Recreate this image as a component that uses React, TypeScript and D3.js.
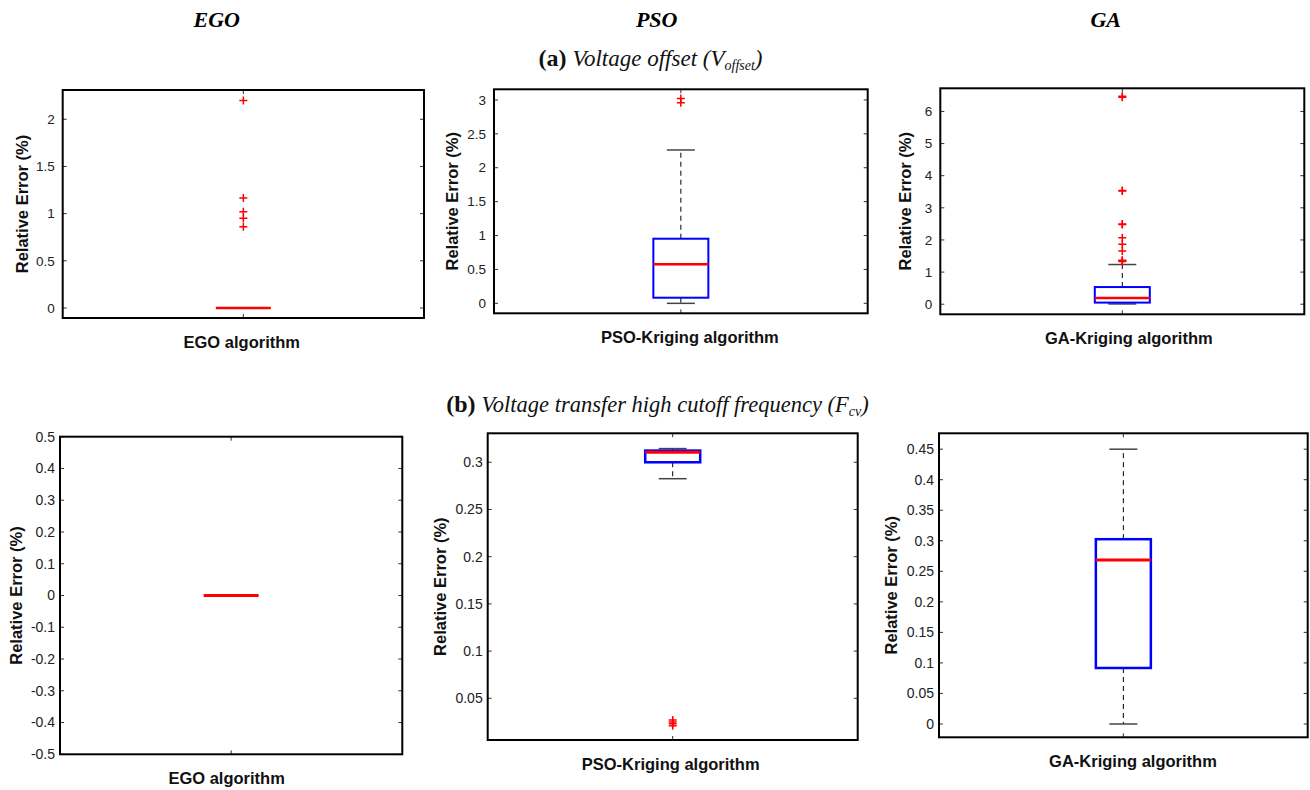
import React from 'react'
import * as d3 from 'd3'

// panels: 0-2 = (a) voltage offset, 3-5 = (b) high cutoff frequency
const columnTitles = ['EGO', 'PSO', 'GA']
const xLabels = [
  'EGO algorithm', 'PSO-Kriging algorithm', 'GA-Kriging algorithm',
  'EGO algorithm', 'PSO-Kriging algorithm', 'GA-Kriging algorithm',
]

const whiskerLow = [0, 0, 0.008, 0, 0.2826, 0]
const q1 = [0, 0.083, 0.05, 0, 0.3, 0.0917]
const median = [0, 0.575, 0.19, 0, 0.3106, 0.2687]
const q3 = [0, 0.953, 0.534, 0, 0.3124, 0.3026]
const whiskerHigh = [0, 2.262, 1.235, 0, 0.3145, 0.45]
const outliers = [
  [2.2, 1.165, 1.02, 0.95, 0.86],
  [3.02, 2.96],
  [6.47, 6.44, 3.54, 3.52, 2.5, 2.48, 2.07, 1.87, 1.66, 1.37, 1.35, 1.33],
  [],
  [0.027, 0.025, 0.023, 0.021],
  [],
]

const yDomains = [
  [-0.106, 2.31],
  [-0.147, 3.157],
  [-0.314, 6.72],
  [-0.5, 0.5],
  [0.0058, 0.3307],
  [-0.0218, 0.476],
]
const yTicks = [
  [0, 0.5, 1, 1.5, 2],
  [0, 0.5, 1, 1.5, 2, 2.5, 3],
  [0, 1, 2, 3, 4, 5, 6],
  [-0.5, -0.4, -0.3, -0.2, -0.1, 0, 0.1, 0.2, 0.3, 0.4, 0.5],
  [0.05, 0.1, 0.15, 0.2, 0.25, 0.3],
  [0, 0.05, 0.1, 0.15, 0.2, 0.25, 0.3, 0.35, 0.4, 0.45],
]

// plot frames [left, top, right, bottom]
const frames = [
  [62.7, 90, 424, 318],
  [494, 89.3, 867.7, 313.3],
  [940.3, 88.3, 1304.3, 314.3],
  [60, 436.7, 402.3, 754.3],
  [487.7, 433.3, 857.7, 740],
  [939, 433.3, 1307.7, 737.3],
]
const yLabelX = [22.7, 452.7, 905, 16, 440, 891.7]
const xLabelShift = [-1.6, 9, 6.5, -4.5, -2, 9.6]

const sans = '"Liberation Sans", Arial, sans-serif'
const serif = '"Liberation Serif", "Times New Roman", serif'

function Panel({ i }: { i: number }) {
  const [l, t, r, b] = frames[i]
  const bottomRow = i >= 3
  const y = d3.scaleLinear().domain(yDomains[i]).range([b, t])
  const x = d3.scaleBand().domain([xLabels[i]]).range([l, r])
  const cx = x(xLabels[i])! + x.bandwidth() / 2
  const boxW = 55
  const capW = 28
  const fmt = (d: number) => String(+d.toFixed(3))
  const tickLen = 4
  const boxStroke = bottomRow ? 2.5 : 2
  return (
    <g>
      {/* whiskers */}
      <line x1={cx} x2={cx} y1={y(q3[i])} y2={y(whiskerHigh[i])} stroke="#000" strokeWidth={1} strokeDasharray="5,4" />
      <line x1={cx} x2={cx} y1={y(q1[i])} y2={y(whiskerLow[i])} stroke="#000" strokeWidth={1} strokeDasharray="5,4" />
      <line x1={cx - capW / 2} x2={cx + capW / 2} y1={y(whiskerHigh[i])} y2={y(whiskerHigh[i])} stroke="#444" strokeWidth={1.5} />
      <line x1={cx - capW / 2} x2={cx + capW / 2} y1={y(whiskerLow[i])} y2={y(whiskerLow[i])} stroke="#444" strokeWidth={1.5} />
      {/* box */}
      <rect x={cx - boxW / 2} y={y(q3[i])} width={boxW} height={y(q1[i]) - y(q3[i])} fill="none" stroke="#0000ff" strokeWidth={boxStroke} />
      <line x1={cx - boxW / 2} x2={cx + boxW / 2} y1={y(median[i])} y2={y(median[i])} stroke="#ff0000" strokeWidth={boxStroke + 0.5} />
      {/* outliers */}
      {outliers[i].map((v, k) => (
        <path key={k} d={`M${cx - 4},${y(v)}H${cx + 4}M${cx},${y(v) - 4}V${y(v) + 4}`} stroke="#ff0000" strokeWidth={1.5} fill="none" />
      ))}
      {/* ticks */}
      {yTicks[i].map(v => (
        <g key={v}>
          <line x1={l} x2={l + tickLen} y1={y(v)} y2={y(v)} stroke="#333" />
          <line x1={r} x2={r - tickLen} y1={y(v)} y2={y(v)} stroke="#333" />
          <text x={l - (bottomRow ? 5 : 8)} y={y(v)} dy="0.35em" textAnchor="end" fontFamily={sans} fontSize={bottomRow ? 14 : 13.5} fill="#222">{fmt(v)}</text>
        </g>
      ))}
      <line x1={cx} x2={cx} y1={t} y2={t + tickLen} stroke="#333" />
      <line x1={cx} x2={cx} y1={b} y2={b - tickLen} stroke="#333" />
      <rect x={l} y={t} width={r - l} height={b - t} fill="none" stroke="#000" strokeWidth={2} />
      {/* labels */}
      <text x={cx + xLabelShift[i]} y={b + 30} textAnchor="middle" fontFamily={sans} fontWeight="bold" fontSize={16.5} fill="#111">{xLabels[i]}</text>
      <text transform={`translate(${yLabelX[i]},${(t + b) / 2}) rotate(-90)`} dy="0.35em" textAnchor="middle" fontFamily={sans} fontWeight="bold" fontSize={16.5} fill="#111">Relative Error (%)</text>
    </g>
  )
}

export default function App() {
  const titleX = [216.7, 656.7, 1105.7]
  return (
    <svg width={1310} height={790} style={{ position: 'absolute', left: 0, top: 0, background: '#fff' }}>
      <rect width={1310} height={790} fill="#fff" />
      {columnTitles.map((c, k) => (
        <text key={c} x={titleX[k]} y={27} textAnchor="middle" fontFamily={serif} fontStyle="italic" fontWeight="bold" fontSize={22}>{c}</text>
      ))}
      <text x={650.5} y={65.7} textAnchor="middle" fontFamily={serif} fontSize={23} fill="#111">
        <tspan fontWeight="bold" fontSize={24}>(a) </tspan>
        <tspan fontStyle="italic">Voltage offset (V</tspan>
        <tspan fontStyle="italic" fontSize={14} dy={4}>offset</tspan>
        <tspan fontStyle="italic" dy={-4}>)</tspan>
      </text>
      <text x={657.5} y={411.7} textAnchor="middle" fontFamily={serif} fontSize={22.5} fill="#111">
        <tspan fontWeight="bold" fontSize={24}>(b) </tspan>
        <tspan fontStyle="italic">Voltage transfer high cutoff frequency (F</tspan>
        <tspan fontStyle="italic" fontSize={14} dy={4}>cv</tspan>
        <tspan fontStyle="italic" dy={-4}>)</tspan>
      </text>
      {frames.map((_, i) => <Panel key={i} i={i} />)}
    </svg>
  )
}
